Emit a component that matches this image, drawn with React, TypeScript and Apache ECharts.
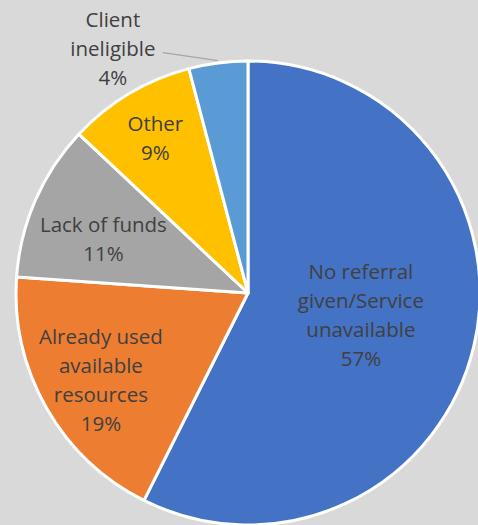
import React, { useEffect, useRef } from "react";
import * as echarts from "echarts";

const categories = [
  "No referral\ngiven/Service\nunavailable",
  "Already used\navailable\nresources",
  "Lack of funds",
  "Other",
  "Client\nineligible",
];
const values = [57.4, 18.7, 10.9, 8.9, 4.1];
const colors = ["#4472C4", "#ED7D31", "#A5A5A5", "#FFC000", "#5B9BD5"];
// radial placement of each label, as a fraction of the radius
const labelRadius = [0.5, 0.73, 0.68, 0.78, 1.0];
const labelShiftY = [-5, 3, 9, 0, 0];

const CX = 248;
const CY = 293;
const R = 232;

export default function App() {
  const ref = useRef<HTMLDivElement>(null);
  useEffect(() => {
    if (!ref.current) return;
    const chart = echarts.init(ref.current, undefined, { renderer: "svg" });
    const total = values.reduce((a, b) => a + b, 0);
    const mids: number[] = [];
    let acc = 0;
    values.forEach((v) => {
      mids.push(((acc + v / 2) / total) * Math.PI * 2);
      acc += v;
    });
    chart.setOption({
      animation: false,
      backgroundColor: "#D9D9D9",
      series: [
        {
          type: "pie",
          center: [CX, CY],
          radius: R,
          startAngle: 90,
          clockwise: true,
          percentPrecision: 0,
          avoidLabelOverlap: false,
          itemStyle: { borderColor: "#FFFFFF", borderWidth: 3 },
          label: {
            show: true,
            position: "inside",
            formatter: (p: any) => `${p.name}\n${p.percent}%`,
            color: "#404040",
            fontFamily: "Open Sans",
            fontSize: 20.5,
            lineHeight: 29,
            align: "center",
          },
          labelLine: { show: false },
          labelLayout: (params: any) => {
            const i = params.dataIndex;
            const a = mids[i];
            const r = R * labelRadius[i];
            const x = CX + r * Math.sin(a);
            const y = CY - r * Math.cos(a) + labelShiftY[i];
            if (i === values.length - 1) {
              const ex = CX + R * 1.01 * Math.sin(a);
              const ey = CY - R * 1.01 * Math.cos(a);
              const sx = ex - 55;
              const sy = ey - 8;
              return {
                x: sx - 50,
                y: sy - 5,
                align: "center",
                verticalAlign: "middle",
                labelLinePoints: [
                  [ex, ey],
                  [sx, sy],
                  [sx, sy],
                ],
              };
            }
            return { x, y, align: "center", verticalAlign: "middle" };
          },
          data: categories.map((name, i) => {
            const item: any = {
              name,
              value: values[i],
              itemStyle: { color: colors[i] },
            };
            if (i === categories.length - 1) {
              item.label = { position: "outside" };
              item.labelLine = {
                show: true,
                lineStyle: { color: "#A6A6A6", width: 1.5 },
              };
            }
            return item;
          }),
        },
      ],
    });
    return () => chart.dispose();
  }, []);
  return (
    <div
      ref={ref}
      style={{ position: "fixed", left: 0, top: 0, width: 478, height: 525 }}
    />
  );
}
